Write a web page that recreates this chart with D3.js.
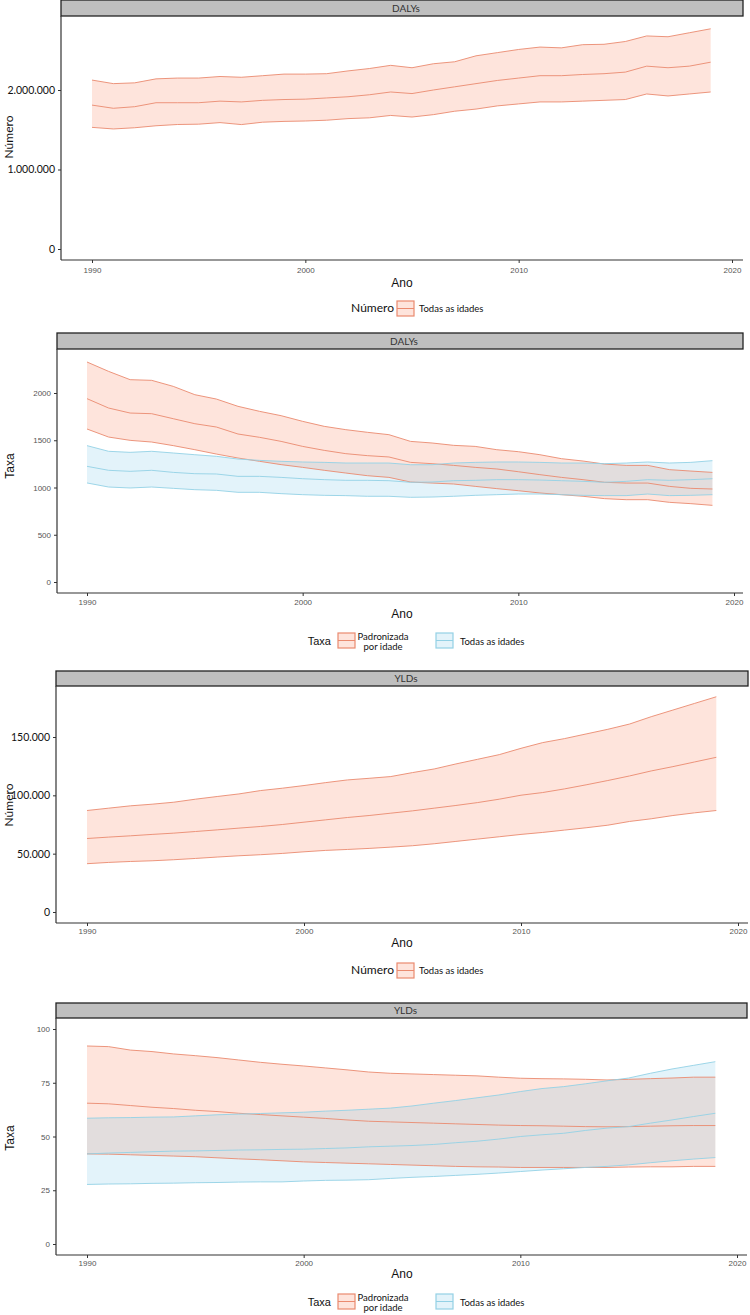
<!DOCTYPE html>
<html><head><meta charset="utf-8">
<script src="https://cdn.jsdelivr.net/npm/d3@7"></script>
<style>body{margin:0;background:#fff}svg{display:block}</style>
</head><body>
<svg id="c" width="750" height="1315"></svg>
<script>
const years = d3.range(1990, 2020);
const xTicks = [1990, 2000, 2010, 2020];

// Panel 1: DALYs, number (Todas as idades)
const dalyNumUpper = [2125000,2080000,2090000,2140000,2150000,2150000,2170000,2160000,2180000,2200000,2200000,2205000,2240000,2270000,2310000,2280000,2330000,2355000,2430000,2470000,2510000,2540000,2530000,2570000,2575000,2610000,2680000,2670000,2720000,2770000];
const dalyNumMean  = [1810000,1770000,1790000,1840000,1840000,1840000,1860000,1850000,1870000,1880000,1885000,1900000,1915000,1940000,1975000,1955000,2000000,2040000,2080000,2120000,2150000,2180000,2180000,2195000,2205000,2225000,2300000,2280000,2300000,2350000];
const dalyNumLower = [1530000,1510000,1525000,1550000,1566000,1570000,1590000,1565000,1595000,1605000,1610000,1620000,1640000,1650000,1680000,1660000,1690000,1733000,1760000,1800000,1825000,1850000,1850000,1860000,1870000,1880000,1950000,1925000,1950000,1975000];
const dalyNumTicks = [0, 1000000, 2000000];

// Panel 2: DALYs, rate
const dalyStdUpper = [2328,2229,2141,2134,2070,1982,1936,1859,1806,1760,1700,1647,1612,1584,1559,1488,1471,1446,1435,1400,1379,1347,1305,1280,1248,1234,1234,1189,1174,1160];
const dalyStdMean  = [1940,1841,1788,1781,1728,1675,1640,1566,1531,1488,1435,1393,1358,1337,1323,1266,1252,1234,1213,1196,1167,1136,1107,1083,1055,1047,1047,1012,991,984];
const dalyStdLower = [1619,1534,1499,1481,1443,1400,1354,1312,1277,1242,1213,1182,1153,1125,1107,1058,1047,1037,1012,988,966,942,924,907,882,871,871,843,829,811];
const dalyAllUpper = [1443,1383,1372,1383,1365,1347,1330,1301,1287,1277,1270,1266,1259,1259,1259,1241,1241,1259,1266,1270,1270,1266,1259,1259,1252,1259,1270,1259,1266,1284];
const dalyAllMean  = [1224,1182,1171,1182,1160,1146,1143,1118,1118,1107,1093,1083,1076,1076,1072,1055,1058,1072,1076,1083,1083,1079,1072,1065,1055,1065,1083,1076,1083,1093];
const dalyAllLower = [1048,1005,995,1005,991,977,970,949,949,935,924,917,914,907,907,896,899,907,917,924,931,931,924,917,914,914,931,914,917,924];
const dalyRateTicks = [0, 500, 1000, 1500, 2000];

// Panel 3: YLDs, number
const yldNumUpper = [87000,89000,91000,92400,94100,96700,99000,101200,104100,106100,108400,110900,113200,114600,116100,119500,122600,126900,130900,134900,140300,145200,148600,152600,156600,161100,167400,173100,178800,184500];
const yldNumMean  = [63000,64200,65300,66500,67600,69000,70400,71900,73300,75000,77000,79000,81000,82700,84700,86700,89000,91300,93800,96700,100100,102400,105500,109000,112700,116600,120900,124600,128600,132600];
const yldNumLower = [41400,42500,43300,43900,44800,45900,47100,48200,49100,50200,51600,52800,53600,54500,55600,56800,58500,60500,62500,64500,66500,68200,70200,72200,74400,77600,79900,82700,85000,87000];
const yldNumTicks = [0, 50000, 100000, 150000];

// Panel 4: YLDs, rate
const yldStdUpper = [92.1,91.8,90.2,89.5,88.4,87.6,86.7,85.6,84.5,83.6,82.8,81.9,81.0,80.0,79.4,79.1,78.8,78.5,78.2,77.6,77.1,76.9,76.8,76.6,76.3,76.6,76.9,77.2,77.6,77.6];
const yldStdMean  = [65.5,65.2,64.4,63.6,63.0,62.2,61.6,60.8,60.2,59.6,59.0,58.4,57.7,57.1,56.8,56.5,56.2,55.9,55.6,55.3,55.1,55.0,54.8,54.6,54.5,54.6,54.8,55.0,55.1,55.1];
const yldStdLower = [41.9,41.8,41.5,41.2,40.9,40.6,40.1,39.6,39.2,38.7,38.2,37.9,37.6,37.3,37.0,36.7,36.4,36.1,35.9,35.8,35.6,35.6,35.6,35.6,35.6,35.8,35.9,35.9,36.1,36.1];
const yldAllUpper = [58.5,58.7,58.8,59.0,59.1,59.6,60.1,60.4,60.7,61.0,61.3,61.8,62.2,62.7,63.2,64.2,65.5,66.7,68.0,69.3,70.9,72.3,73.2,74.5,75.9,77.2,79.4,81.4,83.1,84.8];
const yldAllMean  = [41.9,42.3,42.6,42.9,43.2,43.3,43.5,43.7,43.8,44.0,44.1,44.4,44.7,45.2,45.5,45.8,46.3,47.1,47.8,48.8,50.0,50.8,51.5,52.8,53.9,54.6,56.2,57.7,59.3,60.8];
const yldAllLower = [27.7,27.9,28.0,28.2,28.3,28.5,28.6,28.8,28.9,28.9,29.3,29.6,29.7,29.9,30.5,31.0,31.4,31.9,32.4,33.0,33.7,34.4,35.0,35.6,36.1,36.8,37.8,38.7,39.5,40.2];
const yldRateTicks = [0, 25, 50, 75, 100];

const stripLabels = ["DALYs", "DALYs", "YLDs", "YLDs"];
const legendTitles = ["Número", "Taxa", "Número", "Taxa"];
const yTitles = ["Número", "Taxa", "Número", "Taxa"];
const seriesNames = ["Todas as idades", "Padronizada por idade", "Todas as idades"];

const ptLocale = d3.formatLocale({decimal: ",", thousands: ".", grouping: [3], currency: ["R$", ""]});
const fmtNum = ptLocale.format(",.0f");

const ORANGE = {fill: "rgba(248,120,80,0.2)", line: "#ea8a6f"};
const BLUE = {fill: "rgba(100,190,225,0.18)", line: "#93d1e5"};

const svg = d3.select("#c");
const MYRIAD = "Lato, 'Open Sans', sans-serif";
const HELV = "'Liberation Sans', Arial, sans-serif";

const panels = [
  {L:61, R:743, stripTop:0, top:16, bottom:260, x0:92, x1:732, y0px:249, ytopPx:90, ytopVal:2000000,
   ticks: dalyNumTicks, numFmt:true, tickStyle:"myriad", tickRight:55,
   series:[{c:ORANGE, u:dalyNumUpper, m:dalyNumMean, l:dalyNumLower}],
   legendY:308, legend:[{c:ORANGE, name:[seriesNames[0]]}], yTitleY:137, xLabY:270, anoY:283},
  {L:57, R:743, stripTop:333, top:349, bottom:593, x0:87, x1:734, y0px:582, ytopPx:393, ytopVal:2000,
   ticks: dalyRateTicks, numFmt:false, tickStyle:"helv", tickRight:51,
   series:[{c:ORANGE, u:dalyStdUpper, m:dalyStdMean, l:dalyStdLower},{c:BLUE, u:dalyAllUpper, m:dalyAllMean, l:dalyAllLower}],
   legendY:641, legend:[{c:ORANGE, name:["Padronizada","por idade"]},{c:BLUE, name:[seriesNames[2]]}], yTitleY:466, xLabY:602, anoY:614},
  {L:56, R:748, stripTop:671, top:686, bottom:923, x0:87, x1:738, y0px:912, ytopPx:737, ytopVal:150000,
   ticks: yldNumTicks, numFmt:true, tickStyle:"myriad", tickRight:50,
   series:[{c:ORANGE, u:yldNumUpper, m:yldNumMean, l:yldNumLower}],
   legendY:970, legend:[{c:ORANGE, name:[seriesNames[0]]}], yTitleY:805, xLabY:931, anoY:943},
  {L:56, R:747, stripTop:1003, top:1018, bottom:1255, x0:87, x1:737, y0px:1244, ytopPx:1029, ytopVal:100,
   ticks: yldRateTicks, numFmt:false, tickStyle:"helv", tickRight:50,
   series:[{c:ORANGE, u:yldStdUpper, m:yldStdMean, l:yldStdLower},{c:BLUE, u:yldAllUpper, m:yldAllMean, l:yldAllLower}],
   legendY:1302, legend:[{c:ORANGE, name:["Padronizada","por idade"]},{c:BLUE, name:[seriesNames[2]]}], yTitleY:1138, xLabY:1263, anoY:1274}
];

panels.forEach((p, i) => {
  const g = svg.append("g");
  const x = d3.scaleLinear().domain([1990, 2020]).range([p.x0, p.x1]);
  const y = d3.scaleLinear().domain([0, p.ytopVal]).range([p.y0px, p.ytopPx]);

  // strip
  g.append("rect").attr("x", p.L).attr("y", p.stripTop).attr("width", p.R - p.L).attr("height", p.top - p.stripTop)
    .attr("fill", "#bfbfbf").attr("stroke", "#222").attr("stroke-width", 1.3);
  g.append("text").attr("x", (p.L + p.R) / 2 + 4).attr("y", (p.stripTop + p.top) / 2 + 3.5)
    .attr("text-anchor", "middle").attr("font-family", MYRIAD).attr("font-weight", 400).attr("font-size", 10).attr("fill", "#333")
    .text(stripLabels[i]);

  // ribbons & lines
  p.series.forEach(s => {
    const area = d3.area().x((d, k) => x(years[k])).y0((d, k) => y(s.l[k])).y1((d, k) => y(s.u[k]));
    g.append("path").datum(s.u).attr("d", area).attr("fill", s.c.fill);
  });
  p.series.forEach(s => {
    [s.u, s.m, s.l].forEach(arr => {
      const line = d3.line().x((d, k) => x(years[k])).y(d => y(d));
      g.append("path").datum(arr).attr("d", line).attr("fill", "none").attr("stroke", s.c.line).attr("stroke-width", 0.9);
    });
  });

  // axes
  const axCol = "#333";
  g.append("line").attr("x1", p.L).attr("x2", p.L).attr("y1", p.top).attr("y2", p.bottom).attr("stroke", axCol).attr("stroke-width", 1.2);
  g.append("line").attr("x1", p.L).attr("x2", p.R).attr("y1", p.bottom).attr("y2", p.bottom).attr("stroke", axCol).attr("stroke-width", 1.2);

  const yAxis = d3.axisLeft(y).tickValues(p.ticks).tickSize(3).tickPadding(2)
    .tickFormat(d => p.numFmt ? fmtNum(d) : String(d));
  const ya = g.append("g").attr("transform", `translate(${p.L},0)`).call(yAxis);
  ya.select(".domain").remove();
  ya.selectAll(".tick line").attr("stroke", axCol);
  if (p.tickStyle === "myriad") {
    ya.selectAll(".tick text").attr("font-family", MYRIAD).attr("font-size", 10.5).attr("fill", "#111").attr("x", -(p.L - p.tickRight));
  } else {
    ya.selectAll(".tick text").attr("font-family", HELV).attr("font-size", 8).attr("fill", "#555").attr("x", -(p.L - p.tickRight));
  }

  const xAxis = d3.axisBottom(x).tickValues(xTicks).tickSize(3).tickPadding(3).tickFormat(d3.format("d"));
  const xa = g.append("g").attr("transform", `translate(0,${p.bottom})`).call(xAxis);
  xa.select(".domain").remove();
  xa.selectAll(".tick line").attr("stroke", axCol);
  xa.selectAll(".tick text").attr("font-family", HELV).attr("font-size", 8).attr("fill", "#555")
    .attr("dy", null).attr("y", p.xLabY - p.bottom + 3);

  // titles
  g.append("text").attr("x", 402).attr("y", p.anoY + 4).attr("text-anchor", "middle")
    .attr("font-family", HELV).attr("font-size", 12).attr("fill", "#111").text("Ano");
  const yt = (i % 2 === 0) ? MYRIAD : HELV;
  g.append("text").attr("transform", `translate(${i % 2 === 0 ? 13 : 14},${p.yTitleY}) rotate(-90)`)
    .attr("text-anchor", "middle").attr("font-family", yt).attr("font-size", 12).attr("fill", "#111").text(yTitles[i]);

  // legend
  const lg = g.append("g");
  const ly = p.legendY;
  if (p.legend.length === 1) {
    lg.append("text").attr("x", 394).attr("y", ly + 4).attr("text-anchor", "end")
      .attr("font-family", MYRIAD).attr("font-size", 12).attr("fill", "#111").text(legendTitles[i]);
    drawKey(lg, 397, ly - 7, p.legend[0].c);
    lg.append("text").attr("x", 419).attr("y", ly + 3.5).attr("font-family", MYRIAD).attr("font-size", 9.5)
      .attr("fill", "#111").text(p.legend[0].name[0]);
  } else {
    lg.append("text").attr("x", 331).attr("y", ly + 4).attr("text-anchor", "end")
      .attr("font-family", HELV).attr("font-size", 11).attr("fill", "#111").text(legendTitles[i]);
    drawKey(lg, 338, ly - 8, p.legend[0].c);
    lg.append("text").attr("x", 383).attr("y", ly - 1).attr("text-anchor", "middle").attr("font-family", MYRIAD)
      .attr("font-size", 9.5).attr("fill", "#111").text(p.legend[0].name[0]);
    lg.append("text").attr("x", 383).attr("y", ly + 9).attr("text-anchor", "middle").attr("font-family", MYRIAD)
      .attr("font-size", 9.5).attr("fill", "#111").text(p.legend[0].name[1]);
    drawKey(lg, 436, ly - 8, p.legend[1].c);
    lg.append("text").attr("x", 460).attr("y", ly + 3.5).attr("font-family", MYRIAD).attr("font-size", 9.5)
      .attr("fill", "#111").text(p.legend[1].name[0]);
  }
});

function drawKey(g, x0, y0, c) {
  g.append("rect").attr("x", x0).attr("y", y0).attr("width", 17).attr("height", 15)
    .attr("fill", c.fill).attr("stroke", c.line).attr("stroke-width", 1.2);
  g.append("line").attr("x1", x0).attr("x2", x0 + 17).attr("y1", y0 + 7.5).attr("y2", y0 + 7.5)
    .attr("stroke", c.line).attr("stroke-width", 1);
}
</script>
</body></html>
